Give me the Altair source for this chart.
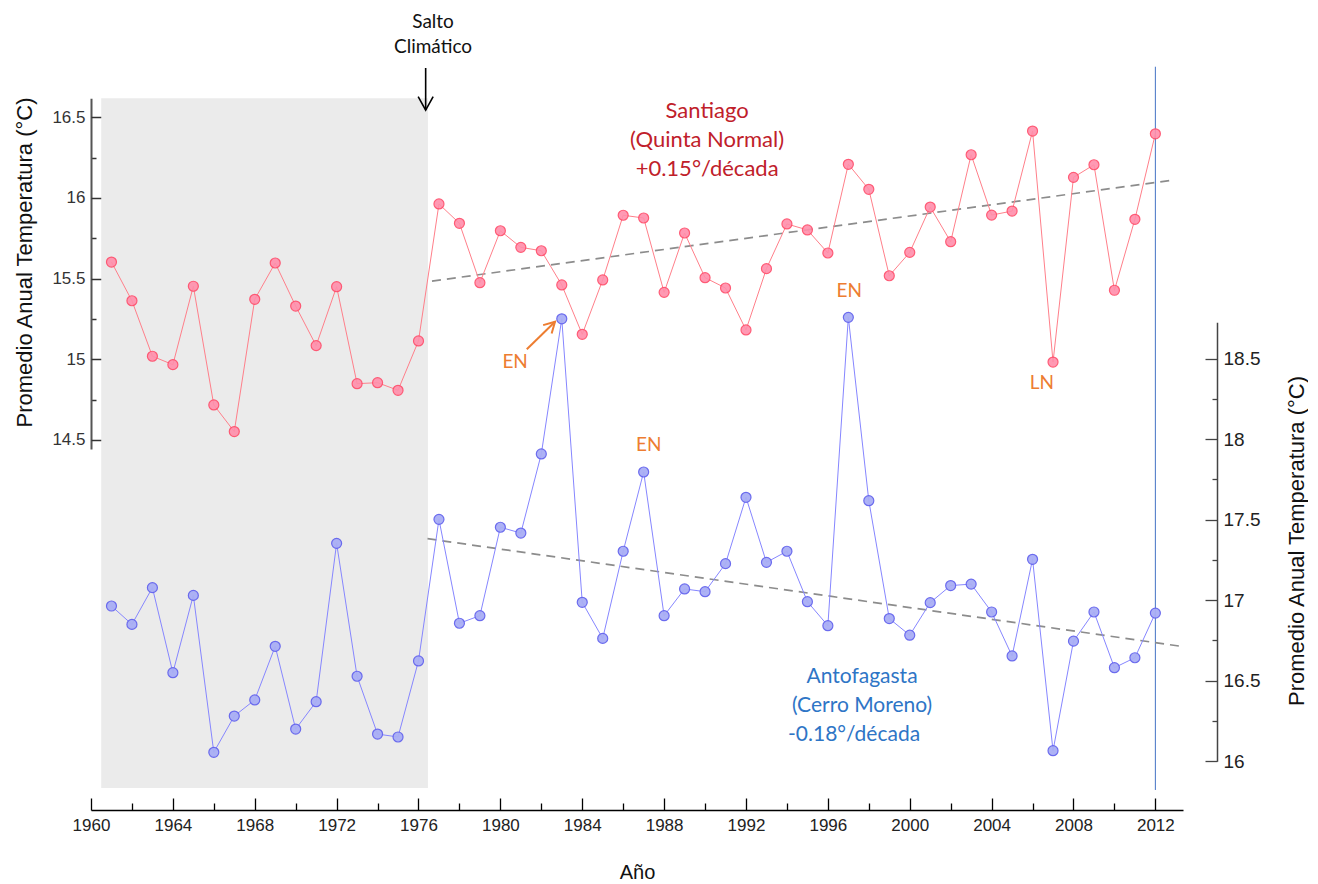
import altair as alt
import pandas as pd

# ---------------- data ----------------
years = list(range(1961, 2013))
santiago = [15.603, 15.363, 15.019, 14.967, 15.453, 14.717, 14.552, 15.372, 15.597, 15.330,
            15.085, 15.450, 14.849, 14.855, 14.808, 15.114, 15.963, 15.843, 15.475, 15.797,
            15.694, 15.673, 15.461, 15.155, 15.492, 15.893, 15.876, 15.415, 15.783, 15.506,
            15.442, 15.182, 15.562, 15.839, 15.802, 15.659, 16.209, 16.054, 15.518, 15.663,
            15.944, 15.729, 16.268, 15.894, 15.919, 16.415, 14.983, 16.128, 16.206, 15.428,
            15.868, 16.398]
antofagasta = [16.964, 16.850, 17.078, 16.550, 17.030, 16.056, 16.281, 16.381, 16.714, 16.200,
               16.370, 17.353, 16.528, 16.169, 16.151, 16.623, 17.502, 16.857, 16.904, 17.453,
               17.417, 17.908, 18.747, 16.987, 16.763, 17.304, 17.796, 16.904, 17.070, 17.053,
               17.227, 17.639, 17.235, 17.304, 16.991, 16.842, 18.756, 17.618, 16.886, 16.783,
               16.985, 17.091, 17.100, 16.927, 16.654, 17.254, 16.066, 16.746, 16.927, 16.581,
               16.643, 16.920]

sant_trend_years = [1976.66, 2012.86]
sant_trend_vals = [15.485, 16.111]
anto_trend_years = [1976.44, 2013.41]
anto_trend_vals = [17.382, 16.711]

band_years = [1960.5, 1976.46]
band_vals = [12.343, 16.618]          # in Santiago (left) units
marker_year = [2012]
marker_vals = [15.822, 20.312]        # in Antofagasta (right) units

x_major = list(range(1960, 2013, 4))
x_minor = list(range(1962, 2013, 4))
left_major = [14.5, 15.0, 15.5, 16.0, 16.5]
left_minor = [14.75, 15.25, 15.75, 16.25]
right_major = [16.0, 16.5, 17.0, 17.5, 18.0, 18.5]
right_minor = [16.25, 16.75, 17.25, 17.75, 18.25]

sant_labels = ["Santiago", "(Quinta Normal)", "+0.15°/década"]
sant_label_x = [1990.1, 1990.1, 1990.1]
sant_label_y = [16.541, 16.359, 16.178]
anto_labels = ["Antofagasta", "(Cerro Moreno)", "-0.18°/década"]
anto_label_x = [1997.67, 1997.67, 1997.28]
anto_label_y = [16.525, 16.343, 16.165]
en_labels = ["EN", "EN", "EN"]
en_x = [1980.72, 1987.25, 1997.04]
en_y = [18.479, 17.964, 18.92]        # right units
ln_labels = ["LN"]
ln_x = [2006.45]
ln_y = [14.851]                       # left units
salto_labels = ["Salto", "Climático"]
salto_x = [1976.71, 1976.71]
salto_y = [17.091, 16.936]            # left units
salto_arrow_x = [1976.35]
salto_arrow_y = [16.806, 16.545]
en_arrow_x = [1981.29, 1982.67]
en_arrow_y = [18.558, 18.729]

# ---------------- scales ----------------
W, H = 1092, 750
xs = alt.Scale(domain=[1960, 2013.35], nice=False, zero=False)
ls = alt.Scale(domain=[14.444, 16.618], range=[389.0, 38.3], nice=False, zero=False)
rs = alt.Scale(domain=[16.0, 18.726], range=[701.3, 262.2], nice=False, zero=False)

AX = "Liberation Sans"
TXT = "Lato"

series = pd.DataFrame({"year": years, "sant": santiago, "anto": antofagasta})
strend = pd.DataFrame({"year": sant_trend_years, "v": sant_trend_vals})
atrend = pd.DataFrame({"year": anto_trend_years, "v": anto_trend_vals})
band_df = pd.DataFrame({"x0": [band_years[0]], "x1": [band_years[1]],
                        "y0": [band_vals[0]], "y1": [band_vals[1]]})
marker_df = pd.DataFrame({"x": marker_year, "y0": [marker_vals[0]], "y1": [marker_vals[1]]})

# axes
x_main = alt.Axis(orient="bottom", values=x_major, format="d", ticks=False, labelPadding=7,
                  labelFont=AX, labelFontSize=17, labelColor="#222", labelFlush=False,
                  labelOverlap=False, domainColor="#000", domainWidth=1.5, grid=False,
                  title="Año", titleFont=AX, titleFontSize=20, titleFontWeight="normal",
                  titleColor="#111", titleBaseline="alphabetic", titleAlign="center",
                  titleX=546, titleY=68)
x_maj_ticks = alt.Axis(orient="bottom", values=x_major, domain=False, labels=False,
                       tickSize=12, offset=-12, tickColor="#000", tickWidth=1.3,
                       grid=False, title=None)
x_min_ticks = alt.Axis(orient="bottom", values=x_minor, domain=False, labels=False,
                       tickSize=7, offset=-7, tickColor="#000", tickWidth=1.3,
                       grid=False, title=None)

l_main = alt.Axis(orient="left", values=left_major, format="~g", ticks=False, labelPadding=6,
                  labelFont=AX, labelFontSize=17, labelColor="#333", labelFlush=False,
                  labelOverlap=False, domainColor="#555", domainWidth=2, grid=False,
                  title="Promedio Anual Temperatura (°C)", titleFont=AX, titleFontSize=22,
                  titleFontWeight="normal", titleColor="#111", titleAngle=270,
                  titleAlign="center", titleBaseline="middle", titleX=-67, titleY=202)
l_maj_ticks = alt.Axis(orient="left", values=left_major, domain=False, labels=False,
                       tickSize=11, offset=-11, tickColor="#333", tickWidth=1.5,
                       grid=False, title=None)
l_min_ticks = alt.Axis(orient="left", values=left_minor, domain=False, labels=False,
                       tickSize=5, offset=-5, tickColor="#333", tickWidth=1.5,
                       grid=False, title=None)

r_main = alt.Axis(orient="right", values=right_major, format="~g", ticks=False, offset=34,
                  labelPadding=6, labelFont=AX, labelFontSize=19, labelColor="#222",
                  labelFlush=False, labelOverlap=False, domainColor="#444", domainWidth=1.5,
                  grid=False, title="Promedio Anual Temperatura (°C)", titleFont=AX,
                  titleFontSize=22, titleFontWeight="normal", titleColor="#111",
                  titleAngle=270, titleAlign="center", titleBaseline="middle",
                  titleX=79, titleY=480.5)
r_maj_ticks = alt.Axis(orient="right", values=right_major, domain=False, labels=False,
                       tickSize=12, offset=22, tickColor="#444", tickWidth=1.3,
                       grid=False, title=None)
r_min_ticks = alt.Axis(orient="right", values=right_minor, domain=False, labels=False,
                       tickSize=5, offset=29, tickColor="#444", tickWidth=1.3,
                       grid=False, title=None)

# ---------------- layers ----------------
band = alt.Chart(band_df).mark_rect(color="#ebebeb").encode(
    x=alt.X("x0:Q", scale=xs, axis=None), x2="x1:Q",
    y=alt.Y("y0:Q", scale=ls, axis=None), y2="y1:Q")

marker = alt.Chart(marker_df).mark_rule(color="#4472c4", strokeWidth=1).encode(
    x=alt.X("x:Q", scale=xs, axis=None),
    y=alt.Y("y0:Q", scale=rs, axis=None), y2="y1:Q")

s_trend = alt.Chart(strend).mark_line(color="#8c8c8c", strokeWidth=1.7, strokeDash=[9, 6]).encode(
    x=alt.X("year:Q", scale=xs, axis=x_min_ticks),
    y=alt.Y("v:Q", scale=ls, axis=l_min_ticks))
a_trend = alt.Chart(atrend).mark_line(color="#8c8c8c", strokeWidth=1.7, strokeDash=[9, 6]).encode(
    x=alt.X("year:Q", scale=xs, axis=None),
    y=alt.Y("v:Q", scale=rs, axis=r_min_ticks))

s_line = alt.Chart(series).mark_line(color="#ff7f8a", strokeWidth=1).encode(
    x=alt.X("year:Q", scale=xs, axis=x_main),
    y=alt.Y("sant:Q", scale=ls, axis=l_main))
s_pts = alt.Chart(series).mark_circle(size=100, color="#ff8fab", stroke="#ff4a68",
                                      strokeWidth=1.2, opacity=0.9).encode(
    x=alt.X("year:Q", scale=xs, axis=x_maj_ticks),
    y=alt.Y("sant:Q", scale=ls, axis=l_maj_ticks))

a_line = alt.Chart(series).mark_line(color="#8686ff", strokeWidth=1).encode(
    x=alt.X("year:Q", scale=xs, axis=None),
    y=alt.Y("anto:Q", scale=rs, axis=r_main))
a_pts = alt.Chart(series).mark_circle(size=100, color="#a9aef5", stroke="#6464ee",
                                      strokeWidth=1.2, opacity=0.95).encode(
    x=alt.X("year:Q", scale=xs, axis=None),
    y=alt.Y("anto:Q", scale=rs, axis=r_maj_ticks))

sant_txt = alt.Chart(pd.DataFrame({"x": sant_label_x, "y": sant_label_y, "t": sant_labels})).mark_text(
    font=TXT, fontSize=22, color="#c0202a", align="center", baseline="middle").encode(
    x=alt.X("x:Q", scale=xs, axis=None), y=alt.Y("y:Q", scale=ls, axis=None), text="t:N")
anto_txt = alt.Chart(pd.DataFrame({"x": anto_label_x, "y": anto_label_y, "t": anto_labels})).mark_text(
    font=TXT, fontSize=21, color="#2e75c6", align="center", baseline="middle").encode(
    x=alt.X("x:Q", scale=xs, axis=None), y=alt.Y("y:Q", scale=rs, axis=None), text="t:N")
en_txt = alt.Chart(pd.DataFrame({"x": en_x, "y": en_y, "t": en_labels})).mark_text(
    font=TXT, fontSize=19, color="#ed7d31", align="center", baseline="middle").encode(
    x=alt.X("x:Q", scale=xs, axis=None), y=alt.Y("y:Q", scale=rs, axis=None), text="t:N")
ln_txt = alt.Chart(pd.DataFrame({"x": ln_x, "y": ln_y, "t": ln_labels})).mark_text(
    font=TXT, fontSize=19, color="#ed7d31", align="center", baseline="middle").encode(
    x=alt.X("x:Q", scale=xs, axis=None), y=alt.Y("y:Q", scale=ls, axis=None), text="t:N")
salto_txt = alt.Chart(pd.DataFrame({"x": salto_x, "y": salto_y, "t": salto_labels})).mark_text(
    font=TXT, fontSize=19, color="#111", align="center", baseline="middle").encode(
    x=alt.X("x:Q", scale=xs, axis=None), y=alt.Y("y:Q", scale=ls, axis=None), text="t:N")

salto_shaft = alt.Chart(pd.DataFrame({"x": salto_arrow_x, "y0": [salto_arrow_y[0]],
                                      "y1": [salto_arrow_y[1]]})).mark_rule(
    color="#000", strokeWidth=1.6).encode(
    x=alt.X("x:Q", scale=xs, axis=None), y=alt.Y("y0:Q", scale=ls, axis=None), y2="y1:Q")
salto_head = alt.Chart(pd.DataFrame({"x": salto_arrow_x, "y": [salto_arrow_y[1]]})).mark_point(
    shape="M-0.5,-0.9L0,0L0.5,-0.9", size=900, filled=False, color="#000",
    strokeWidth=1.6, opacity=1).encode(
    x=alt.X("x:Q", scale=xs, axis=None), y=alt.Y("y:Q", scale=ls, axis=None))

en_shaft = alt.Chart(pd.DataFrame({"x0": [en_arrow_x[0]], "x1": [en_arrow_x[1]],
                                   "y0": [en_arrow_y[0]], "y1": [en_arrow_y[1]]})).mark_rule(
    color="#ed7d31", strokeWidth=2).encode(
    x=alt.X("x0:Q", scale=xs, axis=None), x2="x1:Q",
    y=alt.Y("y0:Q", scale=rs, axis=None), y2="y1:Q")
en_head = alt.Chart(pd.DataFrame({"x": [en_arrow_x[1]], "y": [en_arrow_y[1]]})).mark_point(
    shape="M-0.5,-0.9L0,0L0.5,-0.9", size=576, filled=False, color="#ed7d31",
    strokeWidth=2, opacity=1, angle=225).encode(
    x=alt.X("x:Q", scale=xs, axis=None), y=alt.Y("y:Q", scale=rs, axis=None))

chart = alt.layer(
    band, marker, s_trend, a_trend, s_line, a_line, s_pts, a_pts,
    sant_txt, anto_txt, en_txt, ln_txt, salto_txt,
    salto_shaft, salto_head, en_shaft, en_head,
).resolve_scale(x="independent", y="independent").properties(
    width=W, height=H,
    padding={"left": 83, "top": 52, "right": 125, "bottom": 74},
    autosize=alt.AutoSizeParams(type="none"),
    background="white",
).configure_view(stroke=None)

chart.save("out.html", embed_options={"renderer": "svg", "actions": False})
